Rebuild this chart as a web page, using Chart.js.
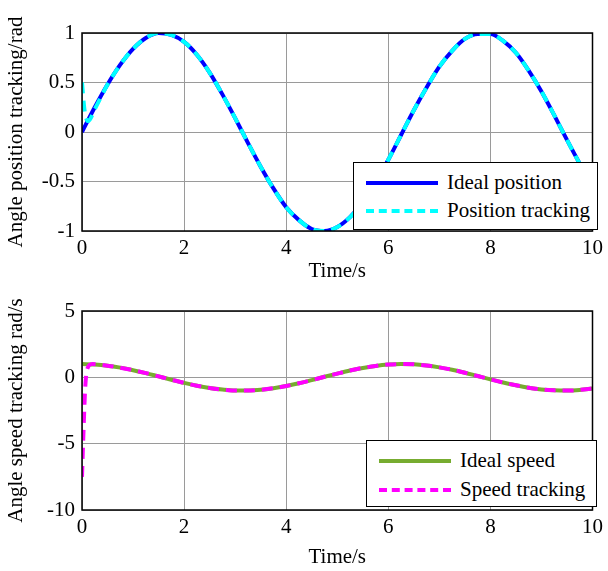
<!DOCTYPE html>
<html>
<head>
<meta charset="utf-8">
<script src="https://cdn.jsdelivr.net/npm/chart.js@4/dist/chart.umd.min.js"></script>
<style>
  body { margin: 0; background: #fff; }
  #wrap { position: relative; width: 608px; height: 571px; font-family: "Liberation Serif", "DejaVu Serif", serif; }
  canvas { position: absolute; left: 0; }
  .legend { position: absolute; background: #fff; border: 1.5px solid #000; box-sizing: border-box; font-size: 21px; color: #000; }
  .row { position: absolute; left: 0; height: 26px; line-height: 26px; white-space: nowrap; }
  .sample { position: absolute; top: 12px; height: 0; }
  .txt { position: absolute; top: 0; }
</style>
</head>
<body>
<div id="wrap">
  <canvas id="posChart" width="608" height="285" style="top:0"></canvas>
  <canvas id="spdChart" width="608" height="286" style="top:285px"></canvas>

  <div class="legend" style="left:353px; top:162px; width:245px; height:68px;">
    <div class="row" style="top:6px"><div class="sample" style="left:12px; width:72px; border-top:4px solid #0000ff;"></div><span class="txt" style="left:93px">Ideal position</span></div>
    <div class="row" style="top:34px"><div class="sample" style="left:12px; width:72px; border-top:4px dashed #00ffff;"></div><span class="txt" style="left:93px">Position tracking</span></div>
  </div>
  <div class="legend" style="left:366px; top:440px; width:231px; height:67px;">
    <div class="row" style="top:6px"><div class="sample" style="left:12px; width:72px; border-top:4px solid #77ac30;"></div><span class="txt" style="left:93px">Ideal speed</span></div>
    <div class="row" style="top:35px"><div class="sample" style="left:12px; width:72px; border-top:4px dashed #ff00ff;"></div><span class="txt" style="left:93px">Speed tracking</span></div>
  </div>
</div>

<script>
// time samples (s)
const timeValues = [0, 0.25, 0.5, 0.75, 1, 1.25, 1.5, 1.75, 2, 2.25, 2.5, 2.75, 3, 3.25, 3.5, 3.75, 4, 4.25, 4.5, 4.75, 5,
  5.25, 5.5, 5.75, 6, 6.25, 6.5, 6.75, 7, 7.25, 7.5, 7.75, 8, 8.25, 8.5, 8.75, 9, 9.25, 9.5, 9.75, 10];

// ideal position (rad)
const idealPosition = [0, 0.25, 0.48, 0.68, 0.84, 0.95, 1.0, 0.98, 0.91, 0.78, 0.6, 0.38, 0.14, -0.11, -0.35, -0.57, -0.76,
  -0.89, -0.98, -1.0, -0.96, -0.86, -0.71, -0.51, -0.28, -0.03, 0.22, 0.45, 0.66, 0.82, 0.94, 0.99, 0.99, 0.92, 0.8, 0.62,
  0.41, 0.17, -0.08, -0.32, -0.54];

// position tracking: start transient, then on top of ideal
const trackPosTime = [0, 0.05, 0.12, 0.25, 0.5, 0.75, 1, 1.25, 1.5, 1.75, 2, 2.25, 2.5, 2.75, 3, 3.25, 3.5, 3.75, 4, 4.25, 4.5, 4.75, 5,
  5.25, 5.5, 5.75, 6, 6.25, 6.5, 6.75, 7, 7.25, 7.5, 7.75, 8, 8.25, 8.5, 8.75, 9, 9.25, 9.5, 9.75, 10];
const trackPosition = [0.5, 0.22, 0.11, 0.23, 0.48, 0.68, 0.84, 0.95, 1.0, 0.98, 0.91, 0.78, 0.6, 0.38, 0.14, -0.11, -0.35, -0.57, -0.76,
  -0.89, -0.98, -1.0, -0.96, -0.86, -0.71, -0.51, -0.28, -0.03, 0.22, 0.45, 0.66, 0.82, 0.94, 0.99, 0.99, 0.92, 0.8, 0.62,
  0.41, 0.17, -0.08, -0.32, -0.54];

// ideal speed (rad/s)
const idealSpeed = [1.0, 0.97, 0.88, 0.73, 0.54, 0.32, 0.07, -0.18, -0.42, -0.63, -0.8, -0.92, -0.99, -0.99, -0.94, -0.82, -0.65,
  -0.45, -0.21, 0.04, 0.28, 0.51, 0.71, 0.86, 0.96, 1.0, 0.98, 0.89, 0.75, 0.57, 0.35, 0.1, -0.15, -0.39, -0.6, -0.78,
  -0.91, -0.98, -1.0, -0.95, -0.84];

// speed tracking: big initial error then follows ideal
const trackSpdTime = [0, 0.03, 0.06, 0.1, 0.2, 0.5, 0.75, 1, 1.25, 1.5, 1.75, 2, 2.25, 2.5, 2.75, 3, 3.25, 3.5, 3.75, 4, 4.25, 4.5, 4.75, 5,
  5.25, 5.5, 5.75, 6, 6.25, 6.5, 6.75, 7, 7.25, 7.5, 7.75, 8, 8.25, 8.5, 8.75, 9, 9.25, 9.5, 9.75, 10];
const trackSpeed = [-7.5, -4.0, -1.0, 0.6, 1.0, 0.88, 0.73, 0.54, 0.32, 0.07, -0.18, -0.42, -0.63, -0.8, -0.92, -0.99, -0.99, -0.94, -0.82, -0.65,
  -0.45, -0.21, 0.04, 0.28, 0.51, 0.71, 0.86, 0.96, 1.0, 0.98, 0.89, 0.75, 0.57, 0.35, 0.1, -0.15, -0.39, -0.6, -0.78,
  -0.91, -0.98, -1.0, -0.95, -0.84];

const xTicks = [0, 2, 4, 6, 8, 10];

const FONT = '"Liberation Serif", "Times New Roman", serif';

function pts(xs, ys) {
  return xs.map((x, i) => ({ x: x, y: ys[i] }));
}

// frame around the plot area, like a matlab axes box
const boxPlugin = {
  id: 'box',
  afterDatasetsDraw(chart) {
    const a = chart.chartArea;
    const ctx = chart.ctx;
    ctx.save();
    ctx.strokeStyle = '#000';
    ctx.lineWidth = 1.5;
    ctx.strokeRect(a.left, a.top, a.right - a.left, a.bottom - a.top);
    ctx.restore();
  }
};

function makeChart(id, datasets, yMin, yMax, yStep, yTitle, padTop, xAxisH) {
  return new Chart(document.getElementById(id), {
    type: 'line',
    data: { datasets: datasets },
    options: {
      responsive: false,
      animation: false,
      layout: { padding: { top: padTop, right: 14, left: 0, bottom: 0 } },
      plugins: { legend: { display: false }, tooltip: { enabled: false } },
      elements: { point: { radius: 0 }, line: { tension: 0.4, cubicInterpolationMode: 'monotone' } },
      scales: {
        x: {
          type: 'linear', min: 0, max: 10,
          afterFit(s) { s.height = xAxisH; },
          afterBuildTicks(s) { s.ticks = xTicks.map(v => ({ value: v })); },
          grid: { color: '#9a9a9a', borderDash: [1, 2], drawTicks: false },
          border: { display: false },
          ticks: { color: '#000', font: { family: FONT, size: 21 }, padding: 5 },
          title: { display: true, text: 'Time/s', color: '#000', font: { family: FONT, size: 21 }, padding: { top: 0, bottom: 1 } }
        },
        y: {
          min: yMin, max: yMax,
          afterFit(s) { s.width = 82; },
          grid: { color: '#9a9a9a', borderDash: [1, 2], drawTicks: false },
          border: { display: false },
          ticks: { stepSize: yStep, color: '#000', font: { family: FONT, size: 21 }, padding: 7,
                   callback: v => String(v) },
          title: { display: true, text: yTitle, color: '#000', font: { family: FONT, size: 21 }, padding: { top: 4, bottom: 0 } }
        }
      }
    },
    plugins: [boxPlugin]
  });
}

makeChart('posChart', [
  { label: 'Position tracking', data: pts(trackPosTime, trackPosition), borderColor: '#00ffff', borderWidth: 4, borderDash: [11, 7] },
  { label: 'Ideal position', data: pts(timeValues, idealPosition), borderColor: '#0000ff', borderWidth: 4 }
], -1, 1, 0.5, 'Angle position tracking/rad', 33, 54);

makeChart('spdChart', [
  { label: 'Speed tracking', data: pts(trackSpdTime, trackSpeed), borderColor: '#ff00ff', borderWidth: 4, borderDash: [11, 7] },
  { label: 'Ideal speed', data: pts(timeValues, idealSpeed), borderColor: '#77ac30', borderWidth: 4 }
], -10, 5, 5, 'Angle speed tracking rad/s', 26, 61);
</script>
</body>
</html>
